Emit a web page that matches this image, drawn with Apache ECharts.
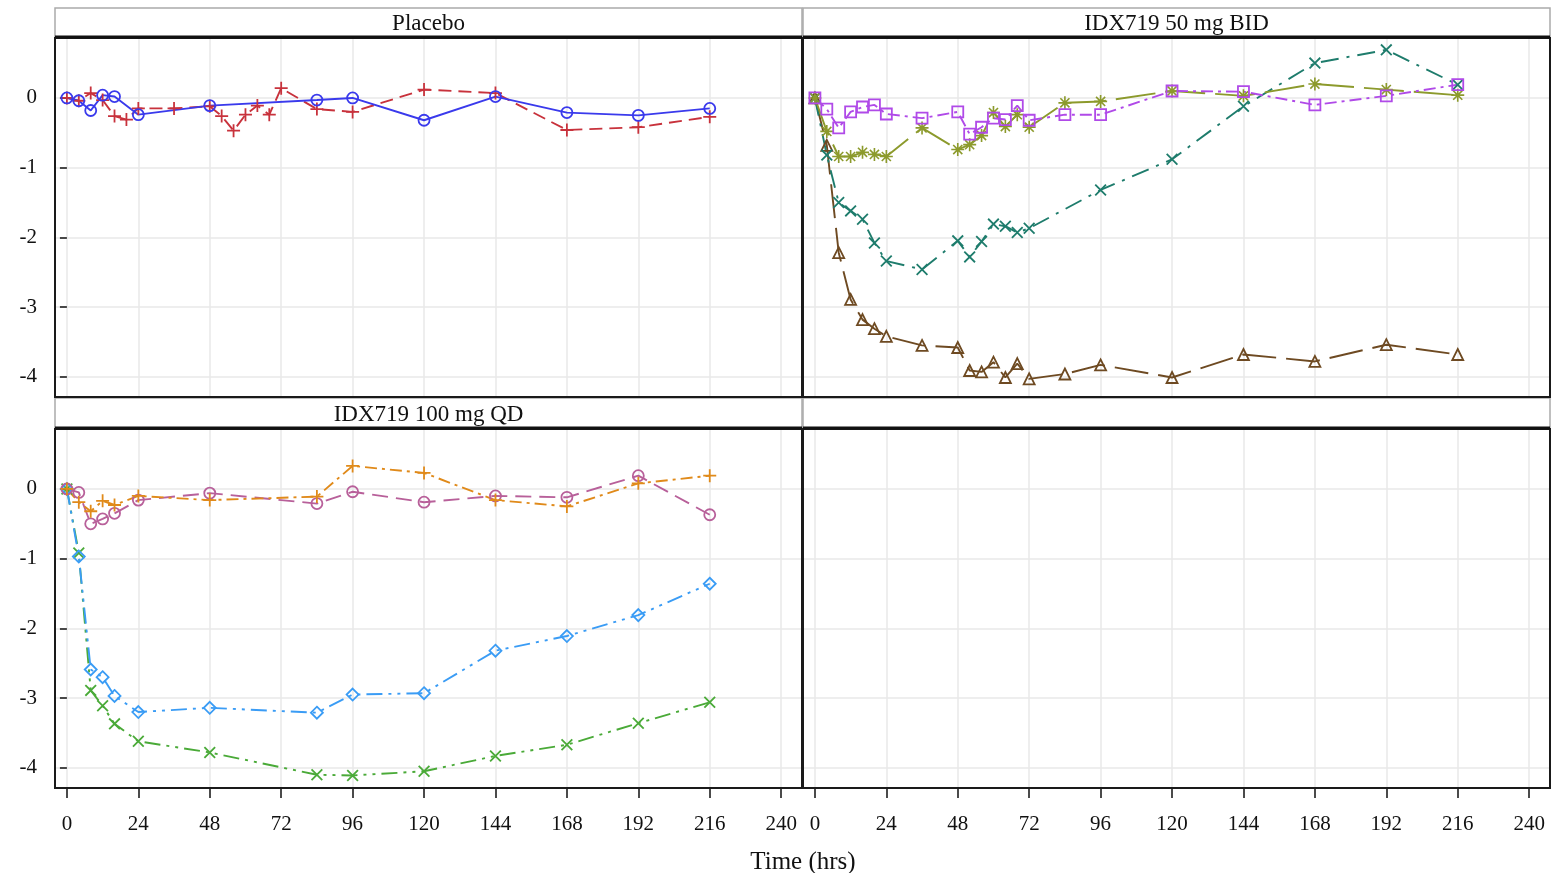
<!DOCTYPE html>
<html>
<head>
<meta charset="utf-8">
<script src="https://cdn.jsdelivr.net/npm/echarts@6/dist/echarts.min.js"></script>
<style>
  html, body { margin: 0; padding: 0; background: #fff; }
  #chart { width: 1558px; height: 873px; }
</style>
</head>
<body>
<div id="chart"></div>
<script>
const xTicks = [0, 24, 48, 72, 96, 120, 144, 168, 192, 216, 240]
const yTicks = [0, -1, -2, -3, -4]
const panelTitles = ['Placebo', 'IDX719 50 mg BID', 'IDX719 100 mg QD', '']

// Placebo
const placeboTimeA = [0, 4, 8, 12, 16, 24, 48, 84, 96, 120, 144, 168, 192, 216]
const placeboCircle = [0, -0.04, -0.18, 0.04, 0.02, -0.24, -0.11, -0.03, 0.0, -0.32, 0.02, -0.21, -0.25, -0.15]
const placeboTimeB = [0, 4, 8, 12, 16, 20, 24, 36, 48, 52, 56, 60, 64, 68, 72, 84, 96, 120, 144, 168, 192, 216]
const placeboPlus = [0, -0.04, 0.07, -0.03, -0.26, -0.31, -0.15, -0.15, -0.12, -0.26, -0.47, -0.24, -0.11, -0.24, 0.14, -0.16, -0.20, 0.12, 0.07, -0.46, -0.42, -0.27]

// IDX719 50 mg BID
const bidTime = [0, 4, 8, 12, 16, 20, 24, 36, 48, 52, 56, 60, 64, 68, 72, 84, 96, 120, 144, 168, 192, 216]
const bidSquare = [0, -0.16, -0.43, -0.20, -0.13, -0.10, -0.23, -0.29, -0.20, -0.52, -0.42, -0.29, -0.31, -0.11, -0.32, -0.24, -0.24, 0.10, 0.09, -0.10, 0.03, 0.19]
const bidStar = [0, -0.48, -0.84, -0.84, -0.78, -0.81, -0.84, -0.43, -0.74, -0.67, -0.54, -0.21, -0.41, -0.24, -0.42, -0.07, -0.05, 0.10, 0.03, 0.20, 0.12, 0.04]
const bidTriangle = [0, -0.68, -2.22, -2.89, -3.18, -3.31, -3.42, -3.55, -3.58, -3.91, -3.93, -3.79, -4.01, -3.81, -4.03, -3.96, -3.83, -4.01, -3.68, -3.78, -3.54, -3.68]
const bidCrossTime = [0, 4, 8, 12, 16, 20, 24, 36, 48, 52, 56, 60, 64, 68, 72, 96, 120, 144, 168, 192, 216]
const bidCross = [0, -0.82, -1.50, -1.62, -1.74, -2.08, -2.34, -2.46, -2.05, -2.28, -2.06, -1.81, -1.84, -1.93, -1.87, -1.32, -0.88, -0.12, 0.50, 0.69, 0.19]

// IDX719 100 mg QD
const qdTime = [0, 4, 8, 12, 16, 24, 48, 84, 96, 120, 144, 168, 192, 216]
const qdPlus = [0, -0.19, -0.32, -0.17, -0.23, -0.10, -0.16, -0.11, 0.33, 0.23, -0.16, -0.25, 0.08, 0.19]
const qdCircle = [0, -0.05, -0.50, -0.43, -0.35, -0.16, -0.06, -0.21, -0.04, -0.19, -0.10, -0.12, 0.19, -0.37]
const qdDiamond = [0, -0.97, -2.59, -2.70, -2.97, -3.20, -3.14, -3.21, -2.95, -2.93, -2.32, -2.11, -1.81, -1.36]
const qdCross = [0, -0.92, -2.89, -3.11, -3.37, -3.62, -3.78, -4.10, -4.11, -4.05, -3.83, -3.67, -3.36, -3.06]

const FONT = 'Liberation Serif'
const PLUS = 'path://M-1.1,-8H1.1V8H-1.1ZM-8,-1.1H8V1.1H-8Z'
const CROSS = 'path://M-7,-5.5L-5.5,-7L7,5.5L5.5,7ZM-7,5.5L5.5,-7L7,-5.5L-5.5,7Z'
const STAR = 'path://M-1,-8H1V8H-1ZM-8,-1H8V1H-8ZM-6.3,-4.9L-4.9,-6.3L6.3,4.9L4.9,6.3ZM-6.3,4.9L4.9,-6.3L6.3,-4.9L-4.9,6.3Z'

const panels = [
  { left: 55, top: 38 },
  { left: 803, top: 38 },
  { left: 55, top: 429 },
  { left: 803, top: 429 },
]
const PW = 747
const PH = 359

const zip = (t, v) => t.map((x, i) => [x, v[i]])

function line(panel, times, vals, color, symbol, size, dash, filled) {
  return {
    type: 'line',
    xAxisIndex: panel,
    yAxisIndex: panel,
    data: zip(times, vals),
    symbol: symbol,
    symbolSize: size,
    showAllSymbol: true,
    clip: false,
    animation: false,
    lineStyle: { color: color, width: 1.9, type: dash },
    itemStyle: filled
      ? { color: color, borderWidth: 0 }
      : { color: 'rgba(255,255,255,0)', borderColor: color, borderWidth: 1.8 },
    emphasis: { disabled: true },
  }
}

const grids = panels.map(p => ({ left: p.left, top: p.top, width: PW, height: PH, show: false }))

const xAxes = panels.map((p, i) => ({
  type: 'value',
  gridIndex: i,
  min: -4,
  max: 247,
  axisLine: { show: i >= 2, onZero: false, lineStyle: { color: '#111', width: 1.5 } },
  axisTick: { show: i >= 2, customValues: xTicks, length: 10, lineStyle: { color: '#111', width: 1.5 } },
  axisLabel: { show: i >= 2, customValues: xTicks, fontFamily: FONT, fontSize: 21, color: '#111', margin: 26 },
  splitLine: { show: true, lineStyle: { color: '#e8e8e8', width: 1.5 } },
}))

const yAxes = panels.map((p, i) => ({
  type: 'value',
  gridIndex: i,
  min: -4.29,
  max: 0.86,
  axisLine: { show: false },
  axisTick: { show: i % 2 === 0, customValues: yTicks, length: 7, lineStyle: { color: '#111', width: 1.5 } },
  axisLabel: { show: i % 2 === 0, customValues: yTicks, fontFamily: FONT, fontSize: 21, color: '#111', margin: 18 },
  splitLine: { show: true, lineStyle: { color: '#e8e8e8', width: 1.5 } },
}))

const graphics = []
panels.forEach((p, i) => {
  const hTop = i < 2 ? 8 : 398
  graphics.push({
    type: 'rect', z: 10, silent: true,
    shape: { x: p.left, y: hTop, width: PW, height: p.top - hTop },
    style: { fill: '#fff', stroke: '#aaa', lineWidth: 1.5 },
  })
  graphics.push({
    type: 'text', z: 11, silent: true,
    x: p.left + PW / 2, y: hTop + (p.top - hTop) / 2 + 1,
    style: { text: panelTitles[i], font: '23px "Liberation Serif"', fill: '#111', align: 'center', verticalAlign: 'middle' },
  })
  graphics.push({
    type: 'rect', z: 12, silent: true,
    shape: { x: p.left, y: p.top, width: PW, height: PH },
    style: { fill: 'none', stroke: '#1a1a1a', lineWidth: 2 },
  })
  graphics.push({
    type: 'line', z: 12, silent: true,
    shape: { x1: p.left, y1: p.top - 1, x2: p.left + PW, y2: p.top - 1 },
    style: { stroke: '#111', lineWidth: 3 },
  })
})
graphics.push({
  type: 'text', z: 11, silent: true,
  x: 803, y: 862,
  style: { text: 'Time (hrs)', font: '25px "Liberation Serif"', fill: '#111', align: 'center', verticalAlign: 'middle' },
})

const series = [
  line(0, placeboTimeB, placeboPlus, '#c8323c', PLUS, 13, [13, 7], true),
  line(0, placeboTimeA, placeboCircle, '#3a3aec', 'circle', 11, 'solid', false),

  line(1, bidTime, bidTriangle, '#6e4a22', 'triangle', 11, [34, 10], false),
  line(1, bidCrossTime, bidCross, '#1e7c6c', CROSS, 12, [18, 8, 3, 8], true),
  line(1, bidTime, bidStar, '#8c9a2c', STAR, 13, [40, 10], true),
  line(1, bidTime, bidSquare, '#b04ae8', 'rect', 11, [12, 5, 3, 5], false),

  line(2, qdTime, qdCross, '#4aaa38', CROSS, 12, [16, 6, 3, 6, 3, 6], true),
  line(2, qdTime, qdDiamond, '#3a9cf5', 'diamond', 12, [16, 6, 3, 6, 3, 6], false),
  line(2, qdTime, qdCircle, '#b8609a', 'circle', 11, [16, 8], false),
  line(2, qdTime, qdPlus, '#e08a1a', PLUS, 13, [12, 5, 3, 5], true),
]

const chart = echarts.init(document.getElementById('chart'))
chart.setOption({
  backgroundColor: '#fff',
  animation: false,
  grid: grids,
  xAxis: xAxes,
  yAxis: yAxes,
  graphic: graphics,
  series: series,
})
</script>
</body>
</html>
